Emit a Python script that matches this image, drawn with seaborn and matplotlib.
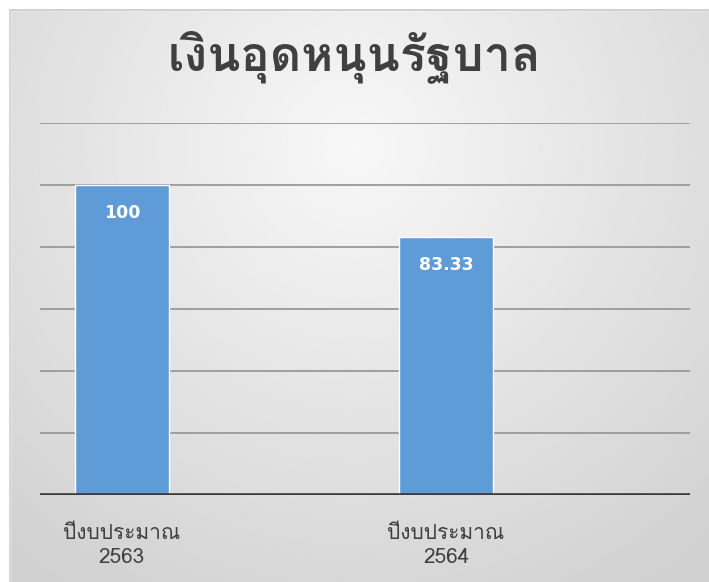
import matplotlib
matplotlib.use("Agg")
import matplotlib.pyplot as plt
from matplotlib import font_manager
import numpy as np
import pandas as pd
import seaborn as sns

title = "เงินอุดหนุนรัฐบาล"
categories = ["ปีงบประมาณ\n2563", "ปีงบประมาณ\n2564"]
values = [100, 83.33]
value_labels = ["100", "83.33"]
grid_ticks = [20, 40, 60, 80, 100, 120]


def find_thai_font():
    # pick the first installed font that has Thai glyphs
    try:
        from fontTools.ttLib import TTFont
    except ImportError:
        return None
    for f in font_manager.fontManager.ttflist:
        try:
            tt = TTFont(f.fname, fontNumber=0, lazy=True)
            cmap = tt.getBestCmap()
            if cmap and 0x0E01 in cmap and 0x0E38 in cmap:
                return f.name
        except Exception:
            continue
    return None


sns.set_theme(style="white")
thai = find_thai_font()
fams = ([thai] if thai else []) + ["DejaVu Sans"]
plt.rcParams["font.family"] = fams

fig = plt.figure(figsize=(7.09, 5.82), dpi=100)

# radial grey gradient background, white strip at top/left
bg = fig.add_axes([0, 0, 1, 1], zorder=-10)
yy, xx = np.mgrid[0:1:300j, 0:1:300j]
r = np.sqrt(((xx - 0.5) / 0.75) ** 2 + ((yy - 0.25) / 0.9) ** 2)
shade = 0.97 - 0.15 * np.clip(r, 0, 1)
bg.imshow(shade, cmap="gray", vmin=0, vmax=1, extent=[0, 1, 1, 0], aspect="auto")
bg.fill_between([0, 1], 0, 10 / 582, color="white")
bg.fill_betweenx([0, 1], 0, 10 / 709, color="white")
bg.plot([10 / 709, 1], [10 / 582, 10 / 582], color="#c8c8c8", lw=1.2)
bg.plot([10 / 709, 10 / 709], [10 / 582, 1], color="#d0d0d0", lw=1.2)
bg.set_xlim(0, 1)
bg.set_ylim(1, 0)
bg.axis("off")

ax = fig.add_axes([40 / 709, 1 - 495 / 582, 650 / 709, 372 / 582])
ax.set_facecolor("none")
df = pd.DataFrame({"cat": categories, "val": values})
sns.barplot(data=df, x="cat", y="val", color="#5f9bd6", saturation=1, width=0.293, ax=ax, zorder=3)

for t in grid_ticks:
    ax.axhline(t, color="#999999", lw=1.3, zorder=1)
ax.axhline(0, color="#3a3a3a", lw=2.6, zorder=4)

ax.bar_label(ax.containers[0], labels=value_labels, padding=-27, color="white",
             fontsize=12.5, fontweight="bold", family="DejaVu Sans", zorder=5)

ax.set_ylim(0, 120)
ax.set_xlim(-0.253, 1.753)
ax.set_yticks([])
ax.set_xlabel("")
ax.set_ylabel("")
ax.tick_params(axis="x", length=0, labelsize=15, labelcolor="#404040", pad=21)
for lab in ax.get_xticklabels():
    lab.set_linespacing(1.35)
for s in ax.spines.values():
    s.set_visible(False)

fig.text(0.5, 1 - 57 / 582, title, ha="center", va="center",
         fontsize=35, fontweight="bold", color="#404040")

fig.savefig("out.png", dpi=100)
